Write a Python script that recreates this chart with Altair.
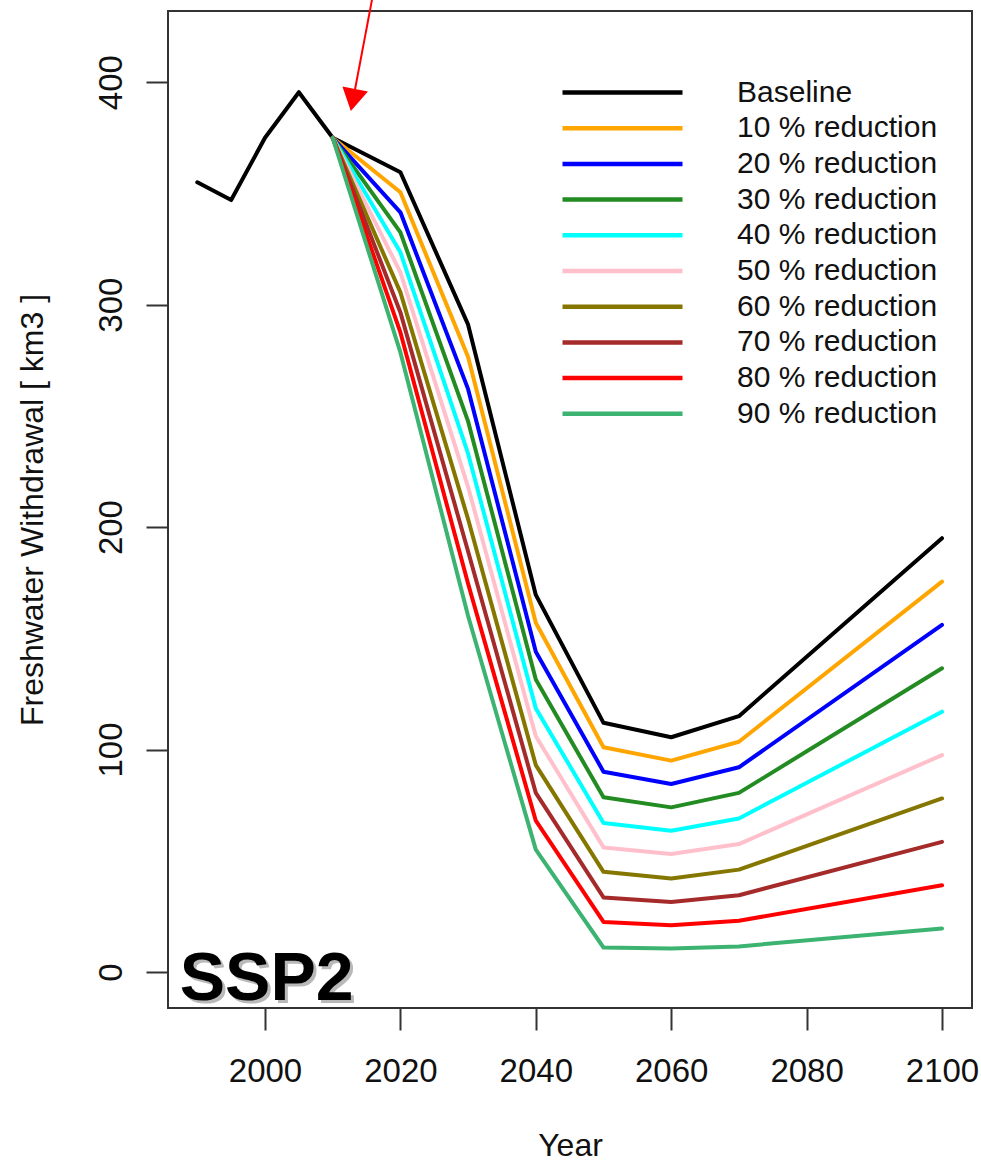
import altair as alt
import pandas as pd

# ---------------- data ----------------
years_hist = [1990, 1995, 2000, 2005, 2010, 2020, 2030, 2040, 2050, 2060, 2070, 2100]
baseline = [355, 347, 375, 395.5, 375, 359.5, 291, 169.5, 112, 105.5, 115, 195]

years_red = [2010, 2020, 2030, 2040, 2050, 2060, 2070, 2100]
red_10 = [375, 350.5, 276.5, 157, 101, 95, 103.5, 175.5]
red_20 = [375, 341.5, 262, 144, 90, 84.5, 92, 156]
red_30 = [375, 332.5, 247.5, 131.5, 78.5, 74, 80.5, 136.5]
red_40 = [375, 323.5, 233, 118.5, 67, 63.5, 69, 117]
red_50 = [375, 314.5, 218, 106, 56, 53, 57.5, 97.5]
red_60 = [375, 305.5, 203.5, 93, 45, 42, 46, 78]
red_70 = [375, 296.5, 189, 80.5, 33.5, 31.5, 34.5, 58.5]
red_80 = [375, 287.5, 174.5, 68, 22.5, 21, 23, 39]
red_90 = [375, 278.5, 160, 55, 11, 10.5, 11.5, 19.5]

series_names = ["Baseline", "10 % reduction", "20 % reduction", "30 % reduction",
                "40 % reduction", "50 % reduction", "60 % reduction",
                "70 % reduction", "80 % reduction", "90 % reduction"]
series_colors = ["#000000", "#FFA500", "#0000FF", "#228B22", "#00FFFF",
                 "#FFC0CB", "#857600", "#A52A2A", "#FF0000", "#3CB371"]

x_ticks = [2000, 2020, 2040, 2060, 2080, 2100]
y_ticks = [0, 100, 200, 300, 400]

panel_label = ["SSP2"]
panel_label_year = [1987.4]
panel_label_value = [-12.6]

arrow_start_year = [2015.8]
arrow_start_value = [437]
arrow_head_year = [2013.0]
arrow_head_value = [392]

# ---------------- tables ----------------
df_base = pd.DataFrame({"Year": years_hist, "value": baseline, "series": "Baseline"})
red_lists = [red_10, red_20, red_30, red_40, red_50, red_60, red_70, red_80, red_90]
df_red = pd.concat(
    [pd.DataFrame({"Year": years_red, "value": vals, "series": name})
     for name, vals in zip(series_names[1:], red_lists)],
    ignore_index=True,
)
df_label = pd.DataFrame({"Year": panel_label_year, "value": panel_label_value, "text": panel_label})
df_arrow = pd.DataFrame({"x0": arrow_start_year, "y0": arrow_start_value,
                         "x1": arrow_head_year, "y1": arrow_head_value})

FONT = "Liberation Sans"

x_scale = alt.Scale(domain=[1985.67, 2104.43], nice=False, zero=False)
y_scale = alt.Scale(domain=[-16.2, 432], nice=False, zero=False)

x_axis = alt.Axis(values=x_ticks, format="d", title="Year", grid=False, domain=False,
                  tickSize=22, tickWidth=2, tickColor="#333333",
                  labelFontSize=33, labelPadding=25, labelColor="#111111",
                  labelFont=FONT, titleFont=FONT, titleFontSize=32,
                  titleFontWeight="normal", titleColor="#111111",
                  titleY=147, titleBaseline="alphabetic")
y_axis = alt.Axis(values=y_ticks, title="Freshwater Withdrawal [ km3 ]", grid=False,
                  domain=False, tickSize=22, tickWidth=2, tickColor="#333333",
                  labelFontSize=33, labelPadding=25, labelAngle=270,
                  labelAlign="center", labelBaseline="alphabetic",
                  labelColor="#111111", labelFont=FONT, titleFont=FONT,
                  titleFontSize=32, titleFontWeight="normal", titleColor="#111111",
                  titleX=-126, titleAngle=270, titleBaseline="alphabetic")

legend = alt.Legend(orient="none", legendX=437, legendY=64,
                    symbolType="M-4,0L4,0", symbolSize=900, symbolStrokeWidth=4.5,
                    labelFontSize=30, labelFont=FONT, labelColor="#111111",
                    labelOffset=97, labelLimit=500, rowPadding=2.7, padding=0,
                    symbolOffset=0)

color = alt.Color("series:N", title=None,
                  scale=alt.Scale(domain=series_names, range=series_colors),
                  legend=legend)

base_line = alt.Chart(df_base).mark_line(strokeWidth=4, strokeJoin="round", strokeCap="round").encode(
    x=alt.X("Year:Q", scale=x_scale, axis=x_axis),
    y=alt.Y("value:Q", scale=y_scale, axis=y_axis),
    color=color,
)

red_lines = alt.Chart(df_red).mark_line(strokeWidth=4, strokeJoin="round", strokeCap="round").encode(
    x=alt.X("Year:Q", scale=x_scale),
    y=alt.Y("value:Q", scale=y_scale),
    color=color,
)

label_shadow = alt.Chart(df_label).mark_text(
    font=FONT, fontSize=68, fontWeight="bold", align="left", baseline="alphabetic",
    color="#808080", opacity=0.55, dx=3, dy=3,
).encode(x="Year:Q", y="value:Q", text="text:N")

label_text = alt.Chart(df_label).mark_text(
    font=FONT, fontSize=68, fontWeight="bold", align="left", baseline="alphabetic",
    color="#000000",
).encode(x="Year:Q", y="value:Q", text="text:N")

arrow_line = alt.Chart(df_arrow).mark_rule(color="#FF0000", strokeWidth=2).encode(
    x="x0:Q", y="y0:Q", x2="x1:Q", y2="y1:Q")

arrow_head = alt.Chart(df_arrow).mark_point(
    shape="triangle-down", filled=True, size=676, angle=11,
    color="#FF0000", opacity=1,
).encode(x="x1:Q", y="y1:Q")

chart = alt.layer(
    base_line, red_lines, label_shadow, label_text, arrow_line, arrow_head
).properties(
    width=804, height=997,
    autosize=alt.AutoSizeParams(type="none"),
    padding={"left": 168, "top": 11, "right": 9, "bottom": 154},
    background="white",
).configure(
    font=FONT,
).configure_view(
    stroke="#333333", strokeWidth=2,
)

chart.save("out.html", embed_options={"renderer": "svg", "actions": False})
